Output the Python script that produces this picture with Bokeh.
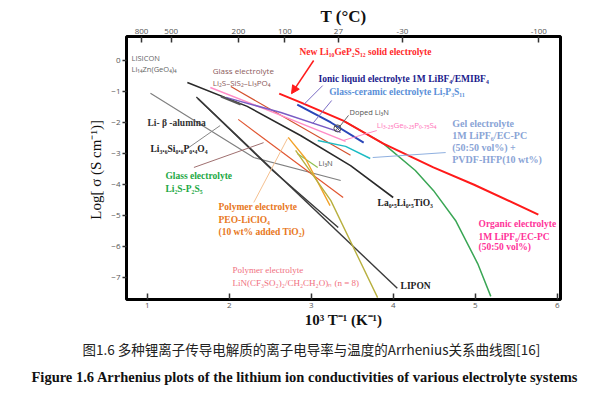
from bokeh.plotting import figure
from bokeh.models import (Range1d, LinearAxis, FixedTicker, CustomJSTickFormatter,
                          Label, Arrow, NormalHead, Title)
from bokeh.embed import file_html
from bokeh.resources import INLINE

# ---------------- data (x = 1000/T in 1/K, y = log10 sigma) ----------------
lgps_x = [2.61, 2.87, 3.39, 3.88, 4.49, 4.98, 5.77]
lgps_y = [-1.07, -1.35, -1.94, -2.68, -3.45, -4.00, -4.97]

ionic_x = [2.83, 3.24, 3.64]
ionic_y = [-1.42, -2.00, -2.65]

glassceram_x = [1.96, 2.63, 3.36]
glassceram_y = [-1.19, -1.68, -2.32]

thio_x = [1.77, 2.63, 3.42]
thio_y = [-0.87, -1.77, -2.61]

dopedli3n_x = [1.90, 2.14]
dopedli3n_y = [-1.16, -1.42]
dopedli3n_mark_x = [3.32]
dopedli3n_mark_y = [-2.19]

gel_x = [3.08, 3.42, 3.72]
gel_y = [-2.58, -2.77, -3.16]

organic_x = [3.39, 3.88, 4.27, 4.49, 4.76, 5.03, 5.19]
organic_y = [-1.94, -2.68, -3.55, -4.19, -5.16, -6.55, -7.61]

llto_x = [1.49, 2.22, 2.87, 3.48, 4.00]
llto_y = [-0.71, -1.48, -2.42, -3.39, -4.42]

lipon_x = [1.62, 4.05]
lipon_y = [-1.23, -7.35]

lisicon_x = [1.60, 2.53, 3.33]
lisicon_y = [-1.18, -3.55, -5.39]

balumina_x = [1.04, 2.30, 3.36]
balumina_y = [-1.06, -3.13, -3.87]

sis2_x = [2.02, 3.48]
sis2_y = [-0.84, -3.06]

li3n_x = [2.11, 3.39]
li3n_y = [-1.90, -4.42]

peo_x = [2.72, 2.93, 3.23]
peo_y = [-2.48, -3.16, -4.68]

peo2_x = [2.81, 3.24, 3.81]
peo2_y = [-2.90, -4.52, -7.65]

li2sp2s5_x = [2.83, 3.08]
li2sp2s5_y = [-3.00, -3.45]

temps_c = [800, 500, 200, 100, 27, -30, -100]
x_ticks = [1, 2, 3, 4, 5, 6]
y_ticks = [-7, -6, -5, -4, -3, -2, -1, 0]

# ---------------- main figure ----------------
p = figure(width=600, height=394, x_range=Range1d(0.748, 6.04), y_range=Range1d(-7.71, 0.774),
           output_backend="svg", toolbar_location=None,
           min_border_left=126, min_border_right=40, min_border_top=36, min_border_bottom=95)
p.grid.visible = False
p.outline_line_color = "black"
p.outline_line_width = 3
p.outline_line_alpha = 1
p.background_fill_color = "white"
p.border_fill_color = "white"

SERIF = "Liberation Serif"
SANS = "Open Sans"

for ax in [p.xaxis[0], p.yaxis[0]]:
    ax.axis_line_color = None
    ax.minor_tick_line_color = None
    ax.major_tick_line_color = "#333"
    ax.major_tick_line_width = 1.5
    ax.major_label_text_font = SANS
    ax.major_label_text_font_size = "8px"
    ax.major_label_text_color = "#555"
    ax.axis_label_text_font = SERIF
    ax.axis_label_text_color = "#111"
    ax.axis_label_text_font_size = "15px"

p.xaxis[0].ticker = FixedTicker(ticks=x_ticks)
p.xaxis[0].major_tick_in = 6
p.xaxis[0].major_tick_out = 0
p.xaxis[0].major_label_standoff = 3
p.xaxis[0].axis_label = "10³ T⁻¹ (K⁻¹)"
p.xaxis[0].axis_label_text_font_style = "bold"
p.xaxis[0].axis_label_standoff = 1

p.yaxis[0].ticker = FixedTicker(ticks=y_ticks)
p.yaxis[0].major_tick_in = 0
p.yaxis[0].major_tick_out = 4
p.yaxis[0].major_label_standoff = 2
p.yaxis[0].axis_label = "Log[ σ  (S cm⁻¹)]"
p.yaxis[0].axis_label_text_font_style = "normal"
p.yaxis[0].axis_label_standoff = 4

top = LinearAxis(ticker=FixedTicker(ticks=[1000.0 / (t + 273.15) for t in temps_c]),
                 formatter=CustomJSTickFormatter(code="return String(Math.round(1000/tick - 273.15));"))
top.axis_line_color = None
top.minor_tick_line_color = None
top.major_tick_line_color = "#333"
top.major_tick_line_width = 1.5
top.major_tick_in = 6
top.major_tick_out = 0
top.major_label_standoff = 3
top.major_label_text_font = SANS
top.major_label_text_font_size = "8px"
top.major_label_text_color = "#555"
top.axis_label = "T (°C)"
top.axis_label_text_font = SERIF
top.axis_label_text_font_style = "bold"
top.axis_label_text_font_size = "17px"
top.axis_label_text_color = "#111"
top.axis_label_standoff = 0
p.add_layout(top, "above")

# captions below the plot
cap1 = Title(text="图1.6  多种锂离子传导电解质的离子电导率与温度的Arrhenius关系曲线图[16]",
             text_font="Noto Sans CJK SC", text_font_size="13.5px", text_font_style="normal",
             text_color="#222", align="left", offset=-44, standoff=12)
cap2 = Title(text="Figure 1.6 Arrhenius plots of the lithium ion conductivities of various electrolyte systems",
             text_font=SERIF, text_font_size="14.5px", text_font_style="bold",
             text_color="#111", align="left", offset=-95, standoff=5)
p.add_layout(cap1, "below")
p.add_layout(cap2, "below")

# ---------------- lines ----------------
def L(x, y, color, w=1.3):
    p.line(x, y, line_color=color, line_width=w)

L(balumina_x, balumina_y, "#808080", 1.2)
L(lisicon_x, lisicon_y, "#3a3a3a", 1.4)
L(lipon_x, lipon_y, "#3a3a3a", 1.4)
L(llto_x, llto_y, "#2a2a2a", 1.6)
L(sis2_x, sis2_y, "#d4502c", 1.2)
L(li3n_x, li3n_y, "#e05530", 1.2)
L(li2sp2s5_x, li2sp2s5_y, "#8fbf50", 1.2)
L(peo_x, peo_y, "#f2a22a", 1.4)
L(peo2_x, peo2_y, "#b8b040", 1.4)
L(thio_x, thio_y, "#ff8cc6", 1.5)
L(glassceram_x, glassceram_y, "#7a5cc4", 1.5)
L(dopedli3n_x, dopedli3n_y, "#555555", 2.0)
L(gel_x, gel_y, "#1fbcc4", 1.5)
L(organic_x, organic_y, "#3aa655", 1.5)
L(ionic_x, ionic_y, "#2a46b8", 2.0)
L(lgps_x, lgps_y, "#ff1a1a", 2.0)
p.scatter(dopedli3n_mark_x, dopedli3n_mark_y, marker="circle_x", size=7,
          fill_color=None, line_color="#555", line_width=1)

leaders = [
    ([2.91, 3.14], [-1.42, -0.81], "#7a6cc4"),
    ([3.02, 3.25], [-2.03, -1.29], "#7a6cc4"),
    ([3.33, 3.455], [-2.19, -1.77], "#666666"),
    ([3.39, 3.80], [-2.58, -2.26], "#ff8cc6"),
    ([3.75, 4.64], [-3.13, -2.97], "#8fb0e0"),
    ([1.49, 1.89], [-2.84, -2.10], "#888888"),
    ([1.57, 2.42], [-3.45, -2.65], "#a07070"),
    ([2.71, 2.30], [-2.52, -4.58], "#f5c090"),
]
for lx, ly, c in leaders:
    p.line(lx, ly, line_color=c, line_width=1)

p.add_layout(Arrow(end=NormalHead(size=8, fill_color="#ff1a1a", line_color="#ff1a1a"),
                   x_start=3.03, y_start=0.0, x_end=2.76, y_end=-1.07,
                   line_color="#ff1a1a", line_width=1.5))

def T(x, y, s, color, size="9.5px", font=SERIF, bold=True):
    p.add_layout(Label(x=x, y=y, text=s, text_color=color, text_font=font,
                       text_font_size=size, text_font_style="bold" if bold else "normal",
                       text_align="left", text_baseline="middle"))

T(0.809, 0.07, "LISICON", "#666", "7.5px", SANS, False)
T(0.809, -0.26, "Li₁₄Zn(GeO₄)₄", "#666", "7.5px", SANS, False)
T(1.80, -0.32, "Glass electrolyte", "#8b5a5a", "8px", SANS, False)
T(1.80, -0.71, "Li₂S–SiS₂–Li₃PO₄", "#8b5a5a", "8px", SANS, False)
T(2.857, 0.29, "New Li₁₀GeP₂S₁₂ solid electrolyte", "#ff2a2a")
T(3.09, -0.61, "Ionic liquid electrolyte 1M LiBF₄/EMIBF₄", "#1a1a8c")
T(3.22, -1.03, "Glass-ceramic electrolyte Li₇P₃S₁₁", "#5a8fd8")
T(3.467, -1.65, "Doped Li₃N", "#555", "7.5px", SANS, False)
T(3.80, -2.06, "Li₃.₂₅Ge₀.₂₅P₀.₇₅S₄", "#ff77bb", "8px", SANS, False)
T(4.72, -2.03, "Gel electrolyte", "#8aa4d6", "10px")
T(4.72, -2.42, "1M LiPF₆/EC-PC", "#8aa4d6", "10px")
T(4.72, -2.81, "(50:50 vol%) +", "#8aa4d6", "10px")
T(4.72, -3.18, "PVDF-HFP(10 wt%)", "#8aa4d6", "10px")
T(1.003, -2.03, "Li- β -alumina", "#333")
T(1.04, -2.84, "Li₃.₆Si₀.₆P₀.₄O₄", "#222")
T(1.223, -3.74, "Glass electrolyte", "#22a844")
T(1.223, -4.13, "Li₂S-P₂S₅", "#22a844")
T(3.09, -3.32, "Li₃N", "#555", "7.5px", SANS, False)
T(3.81, -4.61, "La₀.₅Li₀.₅TiO₃", "#222")
T(1.87, -4.74, "Polymer electrolyte", "#e87722")
T(1.87, -5.13, "PEO-LiClO₄", "#e87722")
T(1.87, -5.52, "(10 wt% added TiO₂)", "#e87722")
T(5.04, -5.29, "Organic electrolyte", "#ff3399")
T(5.04, -5.68, "1M LiPF₆/EC-PC", "#ff3399")
T(5.04, -6.03, "(50:50 vol%)", "#ff3399")
T(2.04, -6.77, "Polymer electrolyte", "#f07080", "9px", SERIF, False)
T(2.04, -7.19, "LiN(CF₃SO₂)₂/CH₂CH₂O)ₙ (n = 8)", "#f07080", "9px", SERIF, False)
T(4.09, -7.26, "LIPON", "#222")

open("out.html", "w").write(file_html(p, INLINE))
